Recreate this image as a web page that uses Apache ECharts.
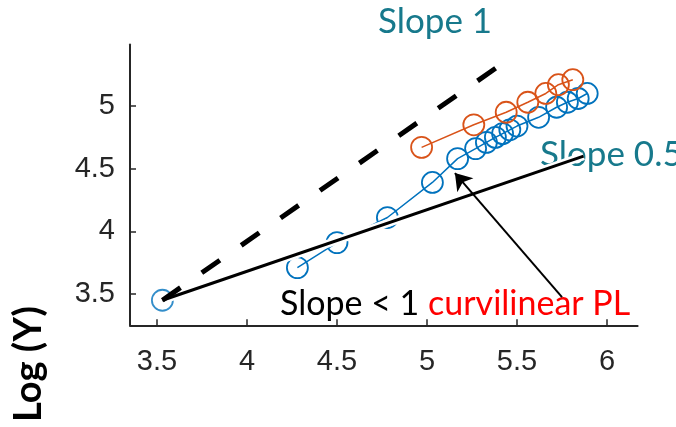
<!DOCTYPE html>
<html>
<head>
<meta charset="utf-8">
<script src="https://cdn.jsdelivr.net/npm/echarts@6/dist/echarts.min.js"></script>
<style>
  html, body { margin: 0; padding: 0; background: #fff; }
  #chart { width: 676px; height: 427px; }
</style>
</head>
<body>
<div id="chart"></div>
<script>
// Log-log growth curves with reference slopes
const xTicks = [3.5, 4, 4.5, 5, 5.5, 6];
const yTicks = [3.5, 4, 4.5, 5];

// blue trajectory (first point stands apart from the connected run)
const blueX = [3.53, 4.28, 4.50, 4.78, 5.03, 5.17, 5.27, 5.33, 5.38, 5.42, 5.46, 5.50, 5.62, 5.72, 5.78, 5.84, 5.89];
const blueY = [3.45, 3.71, 3.91, 4.11, 4.39, 4.58, 4.66, 4.71, 4.75, 4.78, 4.81, 4.84, 4.91, 4.99, 5.03, 5.06, 5.10];

// orange trajectory
const orangeX = [4.97, 5.26, 5.44, 5.56, 5.66, 5.73, 5.81];
const orangeY = [4.67, 4.85, 4.95, 5.03, 5.10, 5.17, 5.21];

// reference lines: slope 1 (dashed) and slope 0.5 (solid)
const slope1X = [3.53, 5.46];
const slope1Y = [3.45, 5.38];
const slopeHalfX = [3.53, 5.87];
const slopeHalfY = [3.45, 4.60];

// arrow from the caption to the bend of the blue curve
const arrowFrom = [5.75, 3.475];
const arrowTo = [5.155, 4.465];

const zip = (xs, ys) => xs.map((x, i) => [x, ys[i]]);

const BLUE = '#0072BD';
const ORANGE = '#D95319';
const TEAL = '#17798C';
const AXIS = '#262626';
const CAPTION_FONT = 'Lato';
const HOLLOW = 'rgba(255,255,255,0)';

const chart = echarts.init(document.getElementById('chart'), null, { renderer: 'canvas' });

const axisCommon = {
  type: 'value',
  axisLine: { show: true, lineStyle: { color: AXIS, width: 2 } },
  axisTick: { show: true, inside: true, length: 6, lineStyle: { color: AXIS, width: 1.5 } },
  splitLine: { show: false },
  axisLabel: { color: AXIS, fontFamily: 'Liberation Sans', fontSize: 29 }
};

// hollow circle markers so the connecting line shows through them
const marker = (color) => ({
  symbol: 'circle', symbolSize: 21,
  itemStyle: { color: HOLLOW, borderColor: color, borderWidth: 1.8 }
});

chart.setOption({
  animation: false,
  backgroundColor: '#fff',
  grid: { left: 130, right: 38.4, top: 44.6, bottom: 101.7, containLabel: false },
  xAxis: Object.assign({}, axisCommon, {
    min: 3.35, max: 6.17,
    axisTick: Object.assign({}, axisCommon.axisTick, { customValues: xTicks }),
    axisLabel: Object.assign({}, axisCommon.axisLabel, { customValues: xTicks, margin: 22 })
  }),
  yAxis: Object.assign({}, axisCommon, {
    min: 3.25, max: 5.49,
    axisTick: Object.assign({}, axisCommon.axisTick, { customValues: yTicks }),
    axisLabel: Object.assign({}, axisCommon.axisLabel, { customValues: yTicks, margin: 15 })
  }),
  series: [
    Object.assign({
      type: 'scatter',
      data: zip(blueX, blueY).slice(0, 1),
      z: 2
    }, marker(BLUE)),
    Object.assign({
      type: 'line',
      data: zip(blueX, blueY).slice(1),
      lineStyle: { color: BLUE, width: 1.5 },
      z: 2
    }, marker(BLUE)),
    Object.assign({
      type: 'line',
      data: zip(orangeX, orangeY),
      lineStyle: { color: ORANGE, width: 1.5 },
      z: 3
    }, marker(ORANGE)),
    {
      // white halo under the slope 0.5 line
      type: 'line',
      data: zip(slopeHalfX, slopeHalfY),
      showSymbol: false, silent: true,
      lineStyle: { color: '#fff', width: 8, cap: 'butt' },
      z: 4
    },
    {
      type: 'line',
      data: zip(slopeHalfX, slopeHalfY),
      showSymbol: false,
      lineStyle: { color: '#000', width: 3 },
      z: 5
    },
    {
      type: 'line',
      data: zip(slope1X, slope1Y),
      showSymbol: false,
      lineStyle: { color: '#000', width: 5, type: [22, 26], cap: 'butt' },
      z: 6
    },
    {
      type: 'lines',
      coordinateSystem: 'cartesian2d',
      data: [{ coords: [arrowFrom, arrowTo] }],
      symbol: ['none', 'arrow'],
      symbolSize: [12, 16],
      lineStyle: { color: '#000', width: 2, opacity: 1 },
      z: 7
    }
  ],
  graphic: [
    {
      type: 'text', left: 378, top: 4,
      style: { text: 'Slope 1', fill: TEAL, font: '35px ' + CAPTION_FONT }
    },
    {
      type: 'text', left: 540, top: 137,
      style: { text: 'Slope 0.5', fill: TEAL, font: '35px ' + CAPTION_FONT }
    },
    {
      type: 'text', left: 280, top: 287,
      style: {
        text: '{k|Slope < 1} {r|curvilinear PL}',
        font: '34px ' + CAPTION_FONT,
        rich: {
          k: { fill: '#000', font: '34px ' + CAPTION_FONT },
          r: { fill: '#FF0000', font: '34px ' + CAPTION_FONT }
        }
      }
    },
    {
      type: 'text', x: 29, y: 364, rotation: Math.PI / 2,
      style: {
        text: 'Log (Y)', fill: '#000', font: 'bold 38px ' + CAPTION_FONT,
        align: 'center', verticalAlign: 'middle'
      }
    }
  ]
});
</script>
</body>
</html>
